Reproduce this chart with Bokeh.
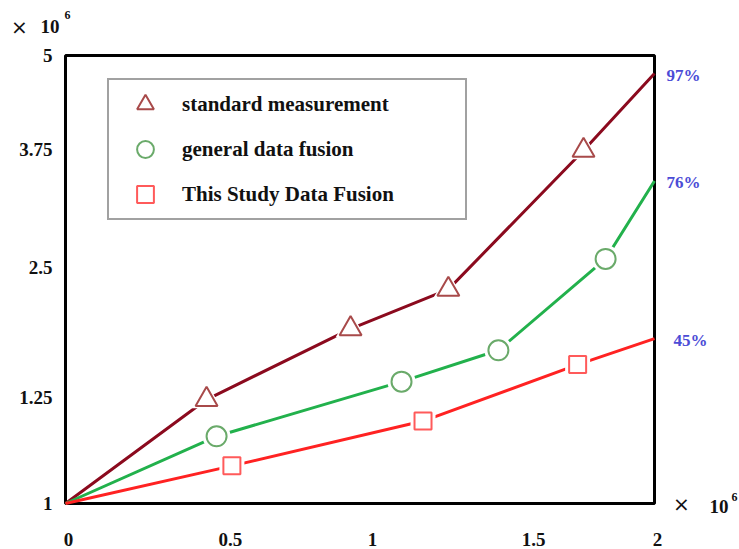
from bokeh.plotting import figure
from bokeh.models import Legend, LegendItem, Range1d
from bokeh.core.properties import value
from bokeh.embed import file_html
from bokeh.resources import INLINE

# ---- data ----
x_std = [0.0, 0.479, 0.968, 1.300, 1.759, 2.0]
y_std = [0.0, 1.16, 1.95, 2.39, 3.94, 4.80]
x_gen = [0.0, 0.513, 1.141, 1.470, 1.834, 2.0]
y_gen = [0.0, 0.75, 1.36, 1.71, 2.73, 3.60]
x_our = [0.0, 0.565, 1.214, 1.739, 2.0]
y_our = [0.0, 0.42, 0.92, 1.55, 1.84]
series_names = ["standard measurement", "general data fusion", "This Study Data Fusion"]
end_labels = ["97%", "76%", "45%"]
x_tick_pos = [0, 0.55, 1.032, 1.579, 2]
x_tick_labels = ["0", "0.5", "1", "1.5", "2"]
y_tick_pos = [0, 1.183, 2.634, 3.951, 5]
y_tick_labels = ["1", "1.25", "2.5", "3.75", "5"]
scale_mult = "×"
scale_base = "10"
scale_exp = "6"

# ---- layout (pixels) ----
W, H = 739, 549
BOX_L, BOX_R, BOX_T, BOX_B = 65, 654, 55, 503
FONT = "Liberation Serif"

x0, x1 = x_tick_pos[0], x_tick_pos[-1]
y0, y1 = y_tick_pos[0], y_tick_pos[-1]
sx = (BOX_R - BOX_L) / (x1 - x0)
sy = (BOX_B - BOX_T) / (y1 - y0)
x_range = Range1d(x0 - BOX_L / sx, x1 + (W - BOX_R) / sx)
y_range = Range1d(y0 - (H - BOX_B) / sy, y1 + BOX_T / sy)

p = figure(width=W, height=H, x_range=x_range, y_range=y_range,
           output_backend="svg", toolbar_location=None,
           x_axis_location=None, y_axis_location=None,
           min_border=0, min_border_left=0, min_border_right=0,
           min_border_top=0, min_border_bottom=0)
p.background_fill_color = "white"
p.border_fill_color = "white"
p.outline_line_color = None
p.grid.visible = False

# plot box
p.quad(left=[x0], right=[x1], bottom=[y0], top=[y1], fill_color=None,
       line_color="black", line_width=3)

# tick labels
p.text(x=[x0] * len(y_tick_pos), y=y_tick_pos, text=y_tick_labels,
       text_align="right", text_baseline="middle", x_offset=-13,
       text_font=value(FONT), text_font_style="bold", text_font_size="19px",
       text_color="#111111")
p.text(x=x_tick_pos, y=[y0] * len(x_tick_pos), text=x_tick_labels,
       text_align="center", text_baseline="middle", x_offset=3, y_offset=36,
       text_font=value(FONT), text_font_style="bold", text_font_size="19px",
       text_color="#111111")

series = [
    (x_std, y_std, "#8b0a1e", "#a84a4a", "triangle", 22),
    (x_gen, y_gen, "#22b14c", "#6aaa6a", "circle", 20),
    (x_our, y_our, "#ff2222", "#ff5a5a", "square", 17),
]

items = []
for (xs, ys, lc, mc, mk, sz), name in zip(series, series_names):
    p.line(xs, ys, line_color=lc, line_width=3)
    # white mask to open a small gap in the line around each marker
    p.scatter(xs[1:-1], ys[1:-1], marker=mk, size=sz + 8, fill_color="white",
              line_color=None)
    r = p.scatter(xs[1:-1], ys[1:-1], marker=mk, size=sz, fill_color="white",
                  line_color=mc, line_width=2)
    items.append(LegendItem(label=name, renderers=[r]))

# percentage labels at the end of each series
for (xs, ys, *_), txt, dx in zip(series, end_labels, [12, 12, 19]):
    p.text(x=[xs[-1]], y=[ys[-1]], text=[txt], x_offset=dx, y_offset=2,
           text_align="left", text_baseline="middle",
           text_font=value(FONT), text_font_style="bold", text_font_size="17px",
           text_color="#4c4cd6")

# "× 10^6" scale notes
def scale_note(ax, ay, dx_mult, dx_base, dx_exp, dy_mult, dy_base, dy_exp):
    p.text(x=[ax], y=[ay], text=[scale_mult], x_offset=dx_mult, y_offset=dy_mult,
           text_align="center", text_baseline="middle",
           text_font=value("DejaVu Sans"), text_font_size="20px", text_color="#111111")
    p.text(x=[ax], y=[ay], text=[scale_base], x_offset=dx_base, y_offset=dy_base,
           text_align="left", text_baseline="alphabetic",
           text_font=value(FONT), text_font_style="bold", text_font_size="19px",
           text_color="#111111")
    p.text(x=[ax], y=[ay], text=[scale_exp], x_offset=dx_exp, y_offset=dy_exp,
           text_align="left", text_baseline="alphabetic",
           text_font=value(FONT), text_font_style="bold", text_font_size="12px",
           text_color="#111111")

scale_note(x0, y1, -46, -25, -1, -29, -29, -41)
scale_note(x1, y0, 27, 55, 77, 0, 3, -7)

legend = Legend(items=items, location=(107, H - 220), padding=3, spacing=3,
                glyph_width=66, glyph_height=42, label_height=42,
                label_standoff=4, label_width=280,
                label_text_font=FONT, label_text_font_style="bold",
                label_text_font_size="21px", label_text_color="#111111",
                border_line_color="#444444", border_line_width=2,
                background_fill_color="white", background_fill_alpha=1.0)
p.add_layout(legend)

open("out.html", "w").write(file_html(p, INLINE))
